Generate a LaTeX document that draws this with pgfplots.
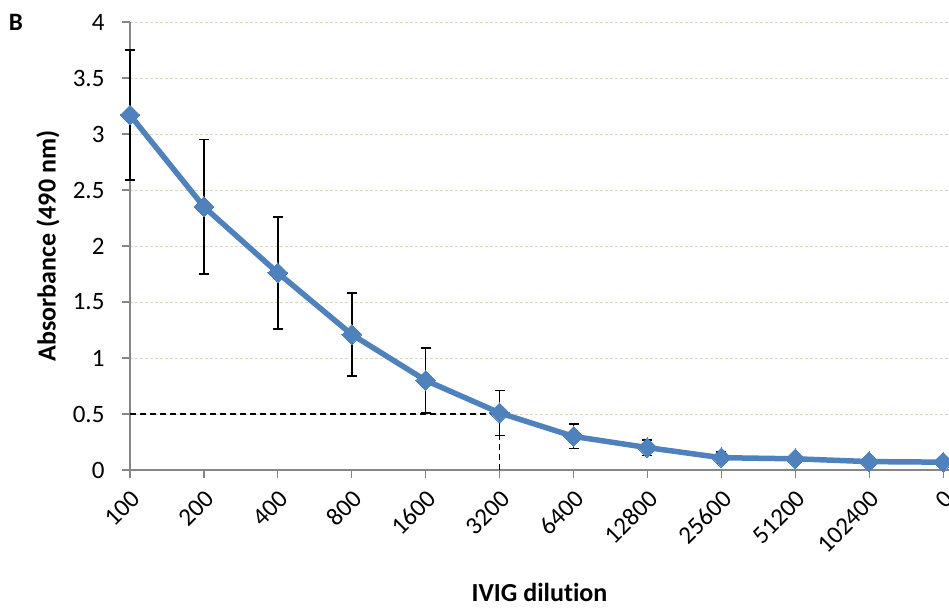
\documentclass[border=0pt]{standalone}
\usepackage{pgfplots}
\pgfplotsset{compat=1.18}
\usepackage{fontspec}
\setmainfont{Carlito}[RawFeature=-liga]

\definecolor{serieblue}{RGB}{79,129,189}
\definecolor{axisgray}{RGB}{134,134,134}
\definecolor{gridtan}{RGB}{222,213,182}

% mean absorbance and standard deviation per dilution step
\pgfplotstableread{
idx  val   err
0    3.17  0.58
1    2.35  0.60
2    1.76  0.50
3    1.21  0.37
4    0.80  0.29
5    0.51  0.20
6    0.30  0.11
7    0.20  0.07
8    0.11  0.05
9    0.10  0.02
10   0.075 0.01
11   0.07  0.01
}\absorb

\begin{document}
\begin{tikzpicture}
\path[use as bounding box] (-130pt,-138pt) rectangle (819pt,470pt);
\begin{axis}[
  scale only axis,
  width=819pt, height=448pt,
  xmin=0, xmax=11.08,
  ymin=0, ymax=4,
  ytick={0,0.5,...,4},
  xtick={0,...,11},
  xticklabels={100,200,400,800,1600,3200,6400,12800,25600,51200,102400,0},
  axis x line*=bottom,
  axis y line*=left,
  axis line style={axisgray, line width=1.2pt, -},
  tick style={axisgray, line width=1.2pt},
  tick align=outside,
  major tick length=8pt,
  ymajorgrids,
  grid style={gridtan, line width=0.9pt, dash pattern=on 3pt off 2pt},
  /pgf/number format/assume math mode=true,
  tick label style={font=\fontsize{25}{30}\selectfont},
  yticklabel style={xshift=-14pt, /pgf/number format/.cd, fixed, precision=1},
  xticklabel style={rotate=45, anchor=east, xshift=-4pt, yshift=-16pt},
  xlabel={\textbf{IVIG dilution}},
  ylabel={\textbf{Absorbance (490 nm)}},
  label style={font=\fontsize{26}{30}\selectfont},
  xlabel style={at={(rel axis cs:0.5,0)}, anchor=center, yshift=-122pt},
  ylabel style={at={(rel axis cs:0,0.5)}, anchor=center, yshift=82pt},
  clip=false,
]
% 0.5 cut-off guide
\addplot[black, line width=1.3pt, dash pattern=on 6pt off 4pt] coordinates {(0,0.5) (5,0.5) (5,0)};
% error bars underneath the curve
\addplot[draw=none, mark=none,
  error bars/.cd, y dir=both, y explicit,
  error bar style={black, line width=1.5pt},
  error mark options={black, line width=1.5pt, mark size=5pt, rotate=90}]
  table[x=idx, y=val, y error=err] {\absorb};
\addplot[serieblue, line width=5.5pt, mark=square*, line join=round,
  mark options={rotate=45, mark size=7pt, line width=0pt, fill=serieblue, draw=serieblue}]
  table[x=idx, y=val] {\absorb};
\end{axis}
\node[font=\fontsize{25}{30}\selectfont] at (-114pt,448pt) {\textbf{B}};
\end{tikzpicture}
\end{document}
